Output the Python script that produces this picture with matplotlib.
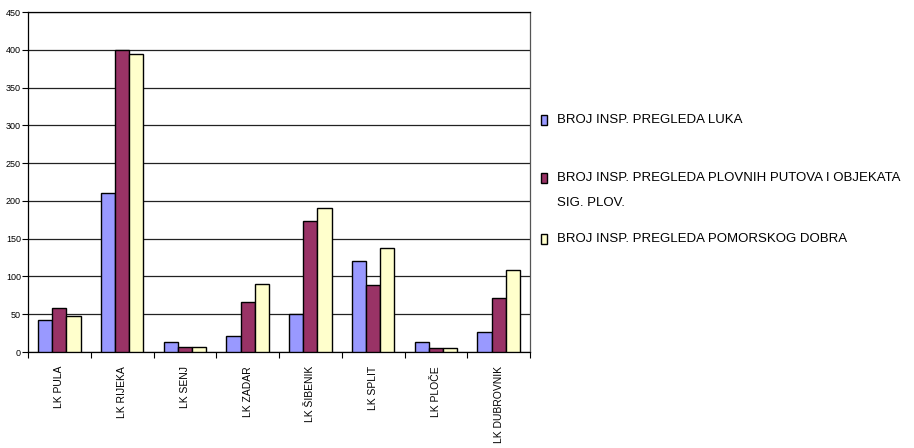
import numpy as np
import matplotlib.pyplot as plt
from matplotlib.patches import Rectangle

categories = ["LK PULA", "LK RIJEKA", "LK SENJ", "LK ZADAR", "LK ŠIBENIK",
              "LK SPLIT", "LK PLOČE", "LK DUBROVNIK"]
luka = [42, 210, 13, 21, 50, 121, 13, 26]
plovni = [58, 400, 7, 66, 174, 89, 5, 71]
pomorsko = [48, 395, 7, 90, 191, 137, 5, 108]

series_names = [
    "BROJ INSP. PREGLEDA LUKA",
    "BROJ INSP. PREGLEDA PLOVNIH PUTOVA I OBJEKATA\nSIG. PLOV.",
    "BROJ INSP. PREGLEDA POMORSKOG DOBRA",
]
colors = ["#9999FF", "#993366", "#FFFFCC"]

arial = ["Liberation Sans", "DejaVu Sans"]

fig = plt.figure(figsize=(9.14, 4.48), dpi=100)
ax = fig.add_axes([28 / 914, 1 - 352 / 448, (530 - 28) / 914, (352 - 12) / 448])

x = np.arange(len(categories))
w = 0.225
for i, vals in enumerate([luka, plovni, pomorsko]):
    ax.bar(x + (i - 1) * w, vals, width=w, color=colors[i],
           edgecolor="black", linewidth=1.0, zorder=3)

ax.set_xlim(-0.5, len(categories) - 0.5)
ax.set_ylim(0, 450)
ax.set_yticks(range(0, 451, 50))
ax.yaxis.grid(True, color="#222222", linewidth=0.9, zorder=0)

# tick marks between categories, labels centred on each group
ax.set_xticks(np.arange(len(categories) + 1) - 0.5)
ax.set_xticklabels([])
ax.set_xticks(x, minor=True)
ax.set_xticklabels(categories, minor=True, rotation=90, fontsize=7.5,
                   family=arial, va="top")
ax.tick_params(axis="x", which="minor", length=0, pad=10)
ax.tick_params(axis="x", which="major", length=4, direction="out", width=0.8)
ax.tick_params(axis="y", length=4, direction="out", width=0.8, pad=1)
for lab in ax.get_yticklabels():
    lab.set_fontsize(6.5)
    lab.set_family(arial)

for side in ["top", "right", "left", "bottom"]:
    ax.spines[side].set_color("black")
    ax.spines[side].set_linewidth(0.9)
ax.spines["right"].set_color("#555555")

# legend drawn at the right, as in the original
rows = [120, 178, 239]
for i, (name, y) in enumerate(zip(series_names, rows)):
    fig.patches.append(Rectangle((541 / 914, 1 - (y + 5) / 448), 6 / 914, 10 / 448,
                                 transform=fig.transFigure, facecolor=colors[i],
                                 edgecolor="black", linewidth=1.0))
    fig.text(557 / 914, 1 - (y - 6) / 448, name, fontsize=9.5, family=arial,
             va="top", ha="left", linespacing=2.4)

plt.savefig("out.png", dpi=100)
